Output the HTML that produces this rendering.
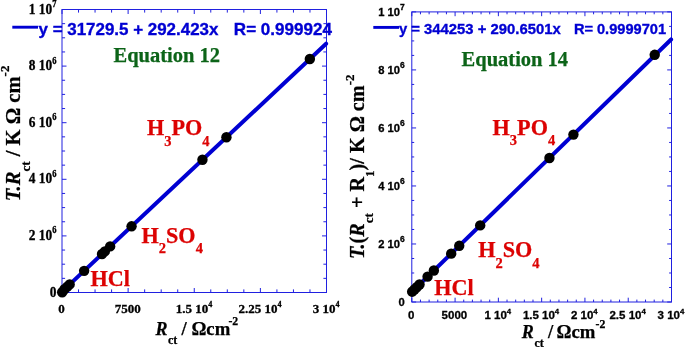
<!DOCTYPE html>
<html><head><meta charset="utf-8"><title>Plots</title>
<style>
html,body{margin:0;padding:0;background:#fff;}
svg{display:block}
.ser{font-family:"Liberation Serif",serif;font-weight:bold}
.san{font-family:"Liberation Sans",sans-serif;font-weight:bold}
</style></head><body>
<svg width="685" height="347" viewBox="0 0 685 347">
<rect width="685" height="347" fill="#fff"/>
<rect x="62" y="9.5" width="264.5" height="283.0" fill="none" stroke="#2020e0" stroke-width="1"/>
<path d="M62.00 292.5v-4.5M62.00 9.5v4.5M78.53 292.5v-3.1M78.53 9.5v3.1M95.06 292.5v-3.1M95.06 9.5v3.1M111.59 292.5v-3.1M111.59 9.5v3.1M128.12 292.5v-4.5M128.12 9.5v4.5M144.66 292.5v-3.1M144.66 9.5v3.1M161.19 292.5v-3.1M161.19 9.5v3.1M177.72 292.5v-3.1M177.72 9.5v3.1M194.25 292.5v-4.5M194.25 9.5v4.5M210.78 292.5v-3.1M210.78 9.5v3.1M227.31 292.5v-3.1M227.31 9.5v3.1M243.84 292.5v-3.1M243.84 9.5v3.1M260.38 292.5v-4.5M260.38 9.5v4.5M276.91 292.5v-3.1M276.91 9.5v3.1M293.44 292.5v-3.1M293.44 9.5v3.1M309.97 292.5v-3.1M309.97 9.5v3.1M326.50 292.5v-4.5M326.50 9.5v4.5M62 292.50h4.5M326.5 292.50h-4.5M62 278.35h3.1M326.5 278.35h-3.1M62 264.20h3.1M326.5 264.20h-3.1M62 250.05h3.1M326.5 250.05h-3.1M62 235.90h4.5M326.5 235.90h-4.5M62 221.75h3.1M326.5 221.75h-3.1M62 207.60h3.1M326.5 207.60h-3.1M62 193.45h3.1M326.5 193.45h-3.1M62 179.30h4.5M326.5 179.30h-4.5M62 165.15h3.1M326.5 165.15h-3.1M62 151.00h3.1M326.5 151.00h-3.1M62 136.85h3.1M326.5 136.85h-3.1M62 122.70h4.5M326.5 122.70h-4.5M62 108.55h3.1M326.5 108.55h-3.1M62 94.40h3.1M326.5 94.40h-3.1M62 80.25h3.1M326.5 80.25h-3.1M62 66.10h4.5M326.5 66.10h-4.5M62 51.95h3.1M326.5 51.95h-3.1M62 37.80h3.1M326.5 37.80h-3.1M62 23.65h3.1M326.5 23.65h-3.1M62 9.50h4.5M326.5 9.50h-4.5" stroke="#2020e0" stroke-width="1" fill="none"/>
<line x1="62.00" y1="291.60" x2="326.10" y2="43.73" stroke="#0000d2" stroke-width="4" stroke-linecap="round"/>
<circle cx="309.84" cy="58.98" r="5.2" fill="#000"/>
<circle cx="226.43" cy="137.26" r="5.2" fill="#000"/>
<circle cx="202.45" cy="159.77" r="5.2" fill="#000"/>
<circle cx="131.56" cy="226.31" r="5.2" fill="#000"/>
<circle cx="110.14" cy="246.42" r="5.2" fill="#000"/>
<circle cx="104.85" cy="251.38" r="5.2" fill="#000"/>
<circle cx="102.03" cy="254.03" r="5.2" fill="#000"/>
<circle cx="84.13" cy="270.83" r="5.2" fill="#000"/>
<circle cx="69.67" cy="284.40" r="5.2" fill="#000"/>
<circle cx="67.29" cy="286.64" r="5.2" fill="#000"/>
<circle cx="64.47" cy="289.28" r="5.2" fill="#000"/>
<circle cx="62.18" cy="292.24" r="5.2" fill="#000"/>
<rect x="411.8" y="11.9" width="259.7" height="290.1" fill="none" stroke="#2020e0" stroke-width="1"/>
<path d="M411.80 302v-4.3M411.80 11.9v4.3M420.46 302v-2.4M420.46 11.9v2.4M429.11 302v-2.4M429.11 11.9v2.4M437.77 302v-2.4M437.77 11.9v2.4M446.43 302v-2.4M446.43 11.9v2.4M455.08 302v-4.3M455.08 11.9v4.3M463.74 302v-2.4M463.74 11.9v2.4M472.40 302v-2.4M472.40 11.9v2.4M481.05 302v-2.4M481.05 11.9v2.4M489.71 302v-2.4M489.71 11.9v2.4M498.37 302v-4.3M498.37 11.9v4.3M507.02 302v-2.4M507.02 11.9v2.4M515.68 302v-2.4M515.68 11.9v2.4M524.34 302v-2.4M524.34 11.9v2.4M532.99 302v-2.4M532.99 11.9v2.4M541.65 302v-4.3M541.65 11.9v4.3M550.31 302v-2.4M550.31 11.9v2.4M558.96 302v-2.4M558.96 11.9v2.4M567.62 302v-2.4M567.62 11.9v2.4M576.28 302v-2.4M576.28 11.9v2.4M584.93 302v-4.3M584.93 11.9v4.3M593.59 302v-2.4M593.59 11.9v2.4M602.25 302v-2.4M602.25 11.9v2.4M610.90 302v-2.4M610.90 11.9v2.4M619.56 302v-2.4M619.56 11.9v2.4M628.22 302v-4.3M628.22 11.9v4.3M636.87 302v-2.4M636.87 11.9v2.4M645.53 302v-2.4M645.53 11.9v2.4M654.19 302v-2.4M654.19 11.9v2.4M662.84 302v-2.4M662.84 11.9v2.4M671.50 302v-4.3M671.50 11.9v4.3M411.8 302.00h4.3M671.5 302.00h-4.3M411.8 287.50h2.4M671.5 287.50h-2.4M411.8 272.99h2.4M671.5 272.99h-2.4M411.8 258.49h2.4M671.5 258.49h-2.4M411.8 243.98h4.3M671.5 243.98h-4.3M411.8 229.47h2.4M671.5 229.47h-2.4M411.8 214.97h2.4M671.5 214.97h-2.4M411.8 200.46h2.4M671.5 200.46h-2.4M411.8 185.96h4.3M671.5 185.96h-4.3M411.8 171.45h2.4M671.5 171.45h-2.4M411.8 156.95h2.4M671.5 156.95h-2.4M411.8 142.44h2.4M671.5 142.44h-2.4M411.8 127.94h4.3M671.5 127.94h-4.3M411.8 113.44h2.4M671.5 113.44h-2.4M411.8 98.93h2.4M671.5 98.93h-2.4M411.8 84.43h2.4M671.5 84.43h-2.4M411.8 69.92h4.3M671.5 69.92h-4.3M411.8 55.41h2.4M671.5 55.41h-2.4M411.8 40.91h2.4M671.5 40.91h-2.4M411.8 26.40h2.4M671.5 26.40h-2.4M411.8 11.90h4.3M671.5 11.90h-4.3" stroke="#2020e0" stroke-width="1" fill="none"/>
<line x1="411.80" y1="292.01" x2="671.10" y2="39.46" stroke="#0000d2" stroke-width="4" stroke-linecap="round"/>
<circle cx="654.71" cy="54.82" r="5.2" fill="#000"/>
<circle cx="573.42" cy="134.59" r="5.2" fill="#000"/>
<circle cx="549.44" cy="157.95" r="5.2" fill="#000"/>
<circle cx="480.19" cy="225.40" r="5.2" fill="#000"/>
<circle cx="459.24" cy="245.81" r="5.2" fill="#000"/>
<circle cx="451.19" cy="253.65" r="5.2" fill="#000"/>
<circle cx="433.87" cy="270.51" r="5.2" fill="#000"/>
<circle cx="427.56" cy="276.67" r="5.2" fill="#000"/>
<circle cx="419.50" cy="284.51" r="5.2" fill="#000"/>
<circle cx="416.73" cy="287.21" r="5.2" fill="#000"/>
<circle cx="414.40" cy="289.48" r="5.2" fill="#000"/>
<circle cx="412.15" cy="291.68" r="5.2" fill="#000"/>
<text transform="translate(56.5,296.60) scale(1.0,1.1)" class="ser" font-size="13.4" text-anchor="end" stroke="#000" stroke-width="0.3">0</text>
<text transform="translate(56.5,240.00) scale(1.0,1.1)" class="ser" font-size="13.4" text-anchor="end" stroke="#000" stroke-width="0.3">2 10<tspan font-size="8.5" dy="-6.0">6</tspan></text>
<text transform="translate(56.5,183.40) scale(1.0,1.1)" class="ser" font-size="13.4" text-anchor="end" stroke="#000" stroke-width="0.3">4 10<tspan font-size="8.5" dy="-6.0">6</tspan></text>
<text transform="translate(56.5,126.80) scale(1.0,1.1)" class="ser" font-size="13.4" text-anchor="end" stroke="#000" stroke-width="0.3">6 10<tspan font-size="8.5" dy="-6.0">6</tspan></text>
<text transform="translate(56.5,70.20) scale(1.0,1.1)" class="ser" font-size="13.4" text-anchor="end" stroke="#000" stroke-width="0.3">8 10<tspan font-size="8.5" dy="-6.0">6</tspan></text>
<text transform="translate(56.5,13.60) scale(1.0,1.1)" class="ser" font-size="13.4" text-anchor="end" stroke="#000" stroke-width="0.3">1 10<tspan font-size="8.5" dy="-6.0">7</tspan></text>
<text transform="translate(61.5,312.60) scale(1.0,1.0)" class="ser" font-size="13.0" text-anchor="middle" stroke="#000" stroke-width="0.3">0</text>
<text transform="translate(127.625,312.60) scale(1.0,1.0)" class="ser" font-size="13.0" text-anchor="middle" stroke="#000" stroke-width="0.3">7500</text>
<text transform="translate(193.95,312.60) scale(1.0,1.0)" class="ser" font-size="13.0" text-anchor="middle" stroke="#000" stroke-width="0.3">1.5 10<tspan font-size="8.2" dy="-5.4">4</tspan></text>
<text transform="translate(260.075,312.60) scale(1.0,1.0)" class="ser" font-size="13.0" text-anchor="middle" stroke="#000" stroke-width="0.3">2.25 10<tspan font-size="8.2" dy="-5.4">4</tspan></text>
<text transform="translate(326.2,312.60) scale(1.0,1.0)" class="ser" font-size="13.0" text-anchor="middle" stroke="#000" stroke-width="0.3">3 10<tspan font-size="8.2" dy="-5.4">4</tspan></text>
<text transform="translate(404.8,305.70) scale(1.0,1.0)" class="san" font-size="11.2" text-anchor="end" stroke="#000" stroke-width="0.3">0</text>
<text transform="translate(404.8,247.68) scale(1.0,1.0)" class="san" font-size="11.2" text-anchor="end" stroke="#000" stroke-width="0.3">2 10<tspan font-size="8.5" dy="-6.0">6</tspan></text>
<text transform="translate(404.8,189.66) scale(1.0,1.0)" class="san" font-size="11.2" text-anchor="end" stroke="#000" stroke-width="0.3">4 10<tspan font-size="8.5" dy="-6.0">6</tspan></text>
<text transform="translate(404.8,131.64) scale(1.0,1.0)" class="san" font-size="11.2" text-anchor="end" stroke="#000" stroke-width="0.3">6 10<tspan font-size="8.5" dy="-6.0">6</tspan></text>
<text transform="translate(404.8,73.62) scale(1.0,1.0)" class="san" font-size="11.2" text-anchor="end" stroke="#000" stroke-width="0.3">8 10<tspan font-size="8.5" dy="-6.0">6</tspan></text>
<text transform="translate(404.8,15.60) scale(1.0,1.0)" class="san" font-size="11.2" text-anchor="end" stroke="#000" stroke-width="0.3">1 10<tspan font-size="8.5" dy="-6.0">7</tspan></text>
<text transform="translate(411.1,319.20) scale(1.0,1.0)" class="san" font-size="11.5" text-anchor="middle" stroke="#000" stroke-width="0.3">0</text>
<text transform="translate(454.3833333333334,319.20) scale(1.0,1.0)" class="san" font-size="11.5" text-anchor="middle" stroke="#000" stroke-width="0.3">5000</text>
<text transform="translate(497.76666666666665,319.20) scale(1.0,1.0)" class="san" font-size="11.5" text-anchor="middle" stroke="#000" stroke-width="0.3">1 10<tspan font-size="7.8" dy="-5.2">4</tspan></text>
<text transform="translate(541.05,319.20) scale(1.0,1.0)" class="san" font-size="11.5" text-anchor="middle" stroke="#000" stroke-width="0.3">1.5 10<tspan font-size="7.8" dy="-5.2">4</tspan></text>
<text transform="translate(584.3333333333334,319.20) scale(1.0,1.0)" class="san" font-size="11.5" text-anchor="middle" stroke="#000" stroke-width="0.3">2 10<tspan font-size="7.8" dy="-5.2">4</tspan></text>
<text transform="translate(627.6166666666667,319.20) scale(1.0,1.0)" class="san" font-size="11.5" text-anchor="middle" stroke="#000" stroke-width="0.3">2.5 10<tspan font-size="7.8" dy="-5.2">4</tspan></text>
<text transform="translate(670.9,319.20) scale(1.0,1.0)" class="san" font-size="11.5" text-anchor="middle" stroke="#000" stroke-width="0.3">3 10<tspan font-size="7.8" dy="-5.2">4</tspan></text>
<line x1="12.3" y1="27.2" x2="38" y2="27.2" stroke="#0000d2" stroke-width="2.9"/>
<text x="38.5" y="34.5" class="san" font-size="16.94" fill="#0000d2" text-anchor="start" stroke="#0000d2" stroke-width="0.35">y = 31729.5 + 292.423x</text>
<text x="233.85" y="34.5" class="san" font-size="17.04" fill="#0000d2" text-anchor="start" stroke="#0000d2" stroke-width="0.35">R= 0.999924</text>
<line x1="373.3" y1="27.4" x2="399" y2="27.4" stroke="#0000d2" stroke-width="2.9"/>
<text x="398.9" y="33.5" class="san" font-size="14.85" fill="#0000d2" text-anchor="start" stroke="#0000d2" stroke-width="0.35">y = 344253 + 290.6501x</text>
<text x="573.9" y="33.5" class="san" font-size="14.6" fill="#0000d2" text-anchor="start" stroke="#0000d2" stroke-width="0.35">R= 0.9999701</text>
<text x="113.5" y="62.3" class="ser" font-size="20.5" fill="#0c6418" text-anchor="start" stroke="#0c6418" stroke-width="0.25">Equation 12</text>
<text x="461.6" y="65.5" class="ser" font-size="20.5" fill="#0c6418" text-anchor="start" stroke="#0c6418" stroke-width="0.25">Equation 14</text>
<text x="147" y="135.1" class="ser" font-size="22.2" fill="#dc0202" stroke="#dc0202" stroke-width="0.25"><tspan dy="0">H</tspan><tspan font-size="14.5" dy="10.6">3</tspan><tspan dy="-10.6">PO</tspan><tspan font-size="14.5" dy="10.6">4</tspan></text>
<text x="141.5" y="242.6" class="ser" font-size="22.2" fill="#dc0202" stroke="#dc0202" stroke-width="0.25"><tspan dy="0">H</tspan><tspan font-size="14.5" dy="10.6">2</tspan><tspan dy="-10.6">SO</tspan><tspan font-size="14.5" dy="10.6">4</tspan></text>
<text x="90.5" y="286" class="ser" font-size="22.2" fill="#dc0202" stroke="#dc0202" stroke-width="0.25"><tspan dy="0">HCl</tspan></text>
<text x="492.6" y="134.5" class="ser" font-size="22.2" fill="#dc0202" stroke="#dc0202" stroke-width="0.25"><tspan dy="0">H</tspan><tspan font-size="14.5" dy="10.6">3</tspan><tspan dy="-10.6">PO</tspan><tspan font-size="14.5" dy="10.6">4</tspan></text>
<text x="478.2" y="257" class="ser" font-size="22.2" fill="#dc0202" stroke="#dc0202" stroke-width="0.25"><tspan dy="0">H</tspan><tspan font-size="14.5" dy="10.6">2</tspan><tspan dy="-10.6">SO</tspan><tspan font-size="14.5" dy="10.6">4</tspan></text>
<text x="434.3" y="295.1" class="ser" font-size="22.2" fill="#dc0202" stroke="#dc0202" stroke-width="0.25"><tspan dy="0">HCl</tspan></text>
<text x="155.4" y="334.5" class="ser" font-size="18" fill="#000" text-anchor="start" stroke="#000" stroke-width="0.25"><tspan font-style="italic">R</tspan></text>
<text x="168.0" y="343.7" class="ser" font-size="12" fill="#000" text-anchor="start" stroke="#000" stroke-width="0.25">ct</text>
<text x="181.6" y="334.5" class="ser" font-size="18.7" fill="#000" text-anchor="start" stroke="#000" stroke-width="0.25">/</text>
<text x="191.4" y="334.5" class="ser" font-size="18.7" fill="#000" text-anchor="start" stroke="#000" stroke-width="0.25">Ωcm</text>
<text x="228.4" y="325.2" class="ser" font-size="11.8" fill="#000" text-anchor="start" stroke="#000" stroke-width="0.25">-2</text>
<text x="521.8" y="337.5" class="ser" font-size="18" fill="#000" text-anchor="start" stroke="#000" stroke-width="0.25"><tspan font-style="italic">R</tspan></text>
<text x="534.4" y="346.7" class="ser" font-size="12" fill="#000" text-anchor="start" stroke="#000" stroke-width="0.25">ct</text>
<text x="548.0" y="337.5" class="ser" font-size="18.7" fill="#000" text-anchor="start" stroke="#000" stroke-width="0.25">/</text>
<text x="556.5" y="337.5" class="ser" font-size="18.7" fill="#000" text-anchor="start" stroke="#000" stroke-width="0.25">Ωcm</text>
<text x="595.5" y="328.2" class="ser" font-size="11.8" fill="#000" text-anchor="start" stroke="#000" stroke-width="0.25">-2</text>
<text transform="translate(19.8,201.2) rotate(-90)" class="ser" stroke="#000" stroke-width="0.25" font-size="20.6"><tspan font-style="italic">T.R</tspan><tspan font-size="13" dy="9.7">ct</tspan><tspan dy="-9.7"> / K Ω cm</tspan><tspan font-size="13" dy="-10.4">-2</tspan></text>
<text transform="translate(363.8,259) rotate(-90)" class="ser" stroke="#000" stroke-width="0.25" font-size="20.2"><tspan font-style="italic">T.</tspan>(<tspan font-style="italic">R</tspan><tspan font-size="13" dy="9.2">ct</tspan><tspan dy="-9.2"> + R</tspan><tspan font-size="13" dy="10.5">1</tspan><tspan dy="-10.5">)/ K Ω cm</tspan><tspan font-size="13" dy="-10.3">-2</tspan></text>
</svg></body></html>
